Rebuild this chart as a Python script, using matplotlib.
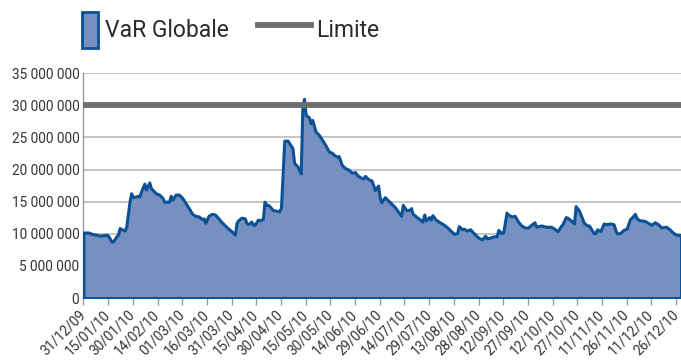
import numpy as np
import matplotlib
matplotlib.use('Agg')
import matplotlib.pyplot as plt
import matplotlib.dates as mdates
import matplotlib.transforms as mtransforms
from matplotlib.patches import Patch
from matplotlib.lines import Line2D
from matplotlib.ticker import FuncFormatter

plt.rcParams['font.family'] = ['Roboto', 'DejaVu Sans']

start = np.datetime64('2009-12-31')

# days after 31/12/09, VaR in millions
days = [0, 3, 5, 8, 10, 14, 15, 17, 18, 20, 21, 22, 24, 25, 26, 28, 29, 30, 32, 33,
        34, 35, 37, 38, 40, 41, 44, 46, 48, 49, 52, 53, 54, 56, 58, 60, 62, 64, 66, 68,
        70, 72, 73, 74, 76, 78, 80, 82, 84, 86, 88, 90, 92, 93, 94, 96, 98, 99, 100, 102,
        103, 104, 106, 107, 109, 110, 111, 112, 113, 115, 117, 119, 120, 122, 124, 125, 127, 128, 130, 132,
        133, 134, 135, 137, 138, 139, 141, 143, 145, 147, 149, 151, 152, 154, 155, 157, 159, 161, 163, 165,
        166, 168, 170, 171, 173, 175, 176, 177, 179, 180, 181, 183, 185, 187, 189, 191, 193, 194, 196, 198,
        199, 200, 202, 204, 206, 207, 208, 210, 211, 212, 214, 217, 219, 221, 223, 225, 227, 228, 230, 231,
        233, 235, 236, 238, 240, 242, 244, 245, 247, 249, 251, 252, 254, 255, 257, 258, 260, 262, 264, 266,
        268, 270, 272, 274, 275, 278, 281, 284, 286, 288, 290, 291, 293, 294, 296, 298, 299, 301, 302, 304,
        306, 307, 310, 311, 312, 314, 315, 316, 318, 320, 322, 323, 324, 326, 328, 330, 332, 333, 335, 336,
        338, 341, 343, 345, 347, 349, 351, 354, 356, 358, 360, 363]
var_m = [10.2, 10.2, 10.0, 9.85, 9.7, 9.85, 9.7, 8.8, 8.8, 9.6, 9.85, 10.9, 10.6, 10.5, 11.1, 15.0, 16.3, 15.7, 15.8, 15.9,
         15.8, 16.6, 17.8, 16.9, 18.0, 17.1, 16.3, 16.1, 15.6, 15.0, 15.0, 15.9, 15.3, 16.1, 16.1, 15.6, 14.8, 14.0, 13.1, 12.8,
         12.7, 12.3, 12.4, 11.7, 12.8, 13.1, 13.0, 12.4, 11.8, 11.3, 10.8, 10.4, 9.85, 11.7, 12.1, 12.5, 12.4, 11.7, 11.5, 11.9,
         11.4, 11.4, 12.2, 12.1, 12.3, 15.0, 14.5, 14.5, 14.3, 13.7, 13.6, 13.5, 14.1, 24.5, 24.5, 24.1, 23.3, 21.0, 20.5, 19.4,
         29.8, 31.0, 28.5, 28.1, 27.2, 27.7, 25.9, 25.4, 24.6, 23.8, 22.8, 22.6, 22.3, 22.0, 22.1, 20.7, 20.2, 20.0, 19.5, 19.6,
         19.2, 18.8, 18.6, 19.0, 18.5, 18.3, 17.6, 16.8, 17.5, 15.6, 14.9, 15.7, 15.2, 14.7, 14.2, 13.5, 12.8, 14.5, 13.7, 13.7,
         14.0, 13.1, 12.7, 12.3, 11.9, 13.0, 12.1, 12.6, 12.2, 12.9, 12.2, 11.7, 11.4, 11.0, 10.5, 10.0, 10.1, 11.2, 10.7, 10.8,
         10.5, 10.7, 10.4, 9.85, 9.4, 9.1, 9.7, 9.3, 9.4, 9.6, 9.6, 10.6, 10.1, 10.2, 13.3, 13.0, 12.7, 12.8, 11.9, 11.3,
         11.0, 10.95, 11.4, 11.8, 11.1, 11.3, 11.1, 11.1, 10.8, 10.4, 11.2, 11.5, 12.6, 12.5, 12.1, 11.6, 14.3, 13.6, 13.0, 11.7,
         11.3, 11.3, 10.1, 10.1, 10.7, 10.4, 11.0, 11.6, 11.5, 11.6, 11.5, 10.7, 10.1, 10.1, 10.6, 10.8, 12.3, 12.5, 13.1, 12.4,
         12.1, 12.0, 11.7, 11.4, 11.8, 11.5, 11.0, 11.1, 10.7, 10.2, 9.85, 9.8]
limite = 30000000

dates = start + np.array(days).astype('timedelta64[D]')
values = np.array(var_m) * 1e6
tick_dates = start + np.arange(0, 361, 15).astype('timedelta64[D]')

fill_col = '#7691c1'
line_col = '#0b5195'
grey = '#6d6e70'

fig = plt.figure(figsize=(6.81, 3.6), dpi=100)
ax = fig.add_axes([0.1225, 0.172, 0.8775, 0.625])

ax.fill_between(dates, values, 0, facecolor=fill_col, edgecolor=line_col, linewidth=2.2, zorder=3)
ax.axhline(limite, color=grey, linewidth=4.2, zorder=4)

ax.set_xlim(start, start + np.timedelta64(363, 'D'))
ax.set_ylim(0, 35000000)
ax.set_yticks(np.arange(0, 35000001, 5000000))
ax.yaxis.set_major_formatter(FuncFormatter(lambda v, p: '{:,}'.format(int(v)).replace(',', ' ')))
ax.grid(axis='y', color='#b5b5b5', linewidth=1.1, zorder=0)
ax.set_axisbelow(True)

ax.set_xticks(tick_dates)
ax.xaxis.set_major_formatter(mdates.DateFormatter('%d/%m/%y'))
ax.tick_params(axis='x', length=5, width=1, color='#9a9a9a', labelsize=9.8, labelcolor='#333333', pad=2)
ax.tick_params(axis='y', length=0, labelsize=9.8, labelcolor='#333333', pad=3)
shift = mtransforms.ScaledTranslation(-5 / 100, 0, fig.dpi_scale_trans)
for lab in ax.get_xticklabels():
    lab.set_rotation(45)
    lab.set_ha('right')
    lab.set_rotation_mode('anchor')
    lab.set_transform(lab.get_transform() + shift)

for s in ['top', 'right', 'bottom']:
    ax.spines[s].set_visible(False)
ax.spines['left'].set_color('#9a9a9a')
ax.spines['left'].set_linewidth(1)

h1 = Patch(facecolor=fill_col, edgecolor=line_col, linewidth=2)
fig.legend([h1], ['VaR Globale'], loc='upper left', bbox_to_anchor=(0.1204, 0.966),
           frameon=False, fontsize=16.5, handlelength=0.72, handleheight=2.0,
           handletextpad=0.3, borderpad=0, borderaxespad=0, labelcolor='#2b2b2b')
h2 = Line2D([0], [0], color=grey, linewidth=4.2)
fig.legend([h2], ['Limite'], loc='upper left', bbox_to_anchor=(0.379, 0.966),
           frameon=False, fontsize=16.5, handlelength=2.3, handleheight=2.0,
           handletextpad=0.25, borderpad=0, borderaxespad=0, labelcolor='#2b2b2b')

fig.savefig('out.png', dpi=100)
